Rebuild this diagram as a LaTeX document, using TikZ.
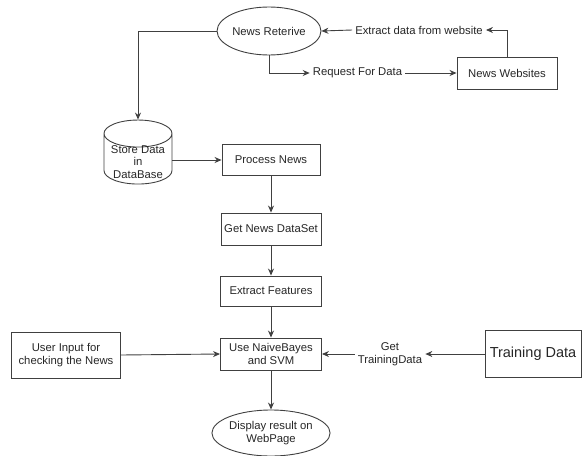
\documentclass[tikz,border=0pt]{standalone}
\usepackage{fontspec}
\setmainfont{Liberation Sans}
\usetikzlibrary{shapes.geometric,arrows.meta}

\begin{document}
\begin{tikzpicture}[x=1pt,y=-1pt,
  every node/.style={text=black!85,font=\fontsize{11.3}{12.6}\selectfont},
  box/.style={draw=black!75,line width=0.9pt,rectangle,align=center,inner sep=1pt},
  oval/.style={draw=black!75,line width=0.9pt,ellipse,align=center,inner sep=0pt},
  tag/.style={fill=white,align=center,inner sep=3pt},
  flow/.style={draw=black!75,line width=0.9pt,-{Stealth[length=7pt,width=6pt]}}]
\useasboundingbox (0,0) rectangle (583,455);

% top part
\node [oval,minimum width=98pt,minimum height=48pt] (ret) at (269,31) {News Reterive};
\node [box,minimum width=100pt,minimum height=32pt] (web) at (507,73) {News Websites};
\node [tag] (req) at (357.5,73) {Request For Data};
\node [tag] (ext) at (419,30) {Extract data from website};
\node [draw=black!75,line width=0.9pt,cylinder,shape border rotate=90,aspect=0.5,
       minimum width=68pt,minimum height=64pt,inner sep=0pt]
       (db) at (138,159) {\phantom{Store Data}};
\node [align=center] (dbtext) at (138,162) {Store Data\\in\\DataBase};

% processing chain
\node [box,minimum width=98pt,minimum height=31pt] (pn) at (271,160) {Process News};
\node [box,minimum width=100pt,minimum height=32pt] (gds) at (271,229) {Get News DataSet};
\node [box,minimum width=101pt,minimum height=30pt] (ef) at (271,291) {Extract Features};
\node [box,minimum width=101pt,minimum height=32pt] (nb) at (271,354) {Use NaiveBayes\\and SVM};
\node [oval,minimum width=98pt,minimum height=46pt] (disp) at (271,433) {Display result on\\WebPage};

% inputs
\node [box,minimum width=109pt,minimum height=46pt] (ui) at (66,355) {User Input for\\checking the News};
\node [box,minimum width=96pt,minimum height=47pt,font=\fontsize{14.5}{16}\selectfont] (td) at (533,354) {Training Data};
\node [tag] (gtd) at (390,354) {Get\\TrainingData};

% connectors
\draw [flow] (ret.west) -| (db.north);
\draw [flow] (ret.south) |- (req.west);
\draw [flow] (req.east) -- (web.west);
\draw [flow] (web.north) |- (ext.east);
\draw [flow] (ext.west) -- (ret.east);
\draw [flow] (pn.west -| db.east) -- (pn.west);
\draw [flow] (pn) -- (gds);
\draw [flow] (gds) -- (ef);
\draw [flow] (ef) -- (nb);
\draw [flow] (nb) -- (disp);
\draw [flow] (ui.east) -- (nb.west);
\draw [flow] (td.west) -- (gtd.east);
\draw [flow] (gtd.west) -- (nb.east);
\end{tikzpicture}
\end{document}
